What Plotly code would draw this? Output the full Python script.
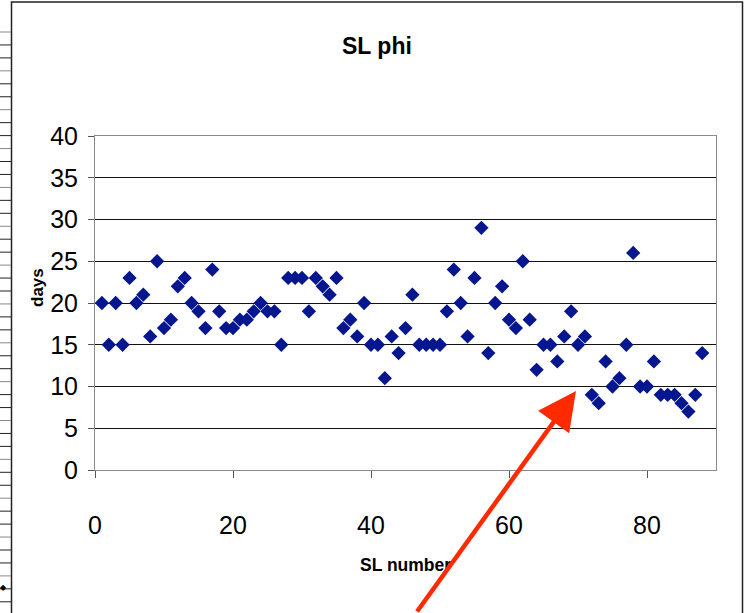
import plotly.graph_objects as go

# SL numbers and measured phase duration in days
sl_number = list(range(1, 89))
days = [
    20, 15, 20, 15, 23, 20, 21, 16, 25, 17,
    18, 22, 23, 20, 19, 17, 24, 19, 17, 17,
    18, 18, 19, 20, 19, 19, 15, 23, 23, 23,
    19, 23, 22, 21, 23, 17, 18, 16, 20, 15,
    15, 11, 16, 14, 17, 21, 15, 15, 15, 15,
    19, 24, 20, 16, 23, 29, 14, 20, 22, 18,
    17, 25, 18, 12, 15, 15, 13, 16, 19, 15,
    16, 9, 8, 13, 10, 11, 15, 26, 10, 10,
    13, 9, 9, 9, 8, 7, 9, 14,
]

x_ticks = [0, 20, 40, 60, 80]
y_ticks = [0, 5, 10, 15, 20, 25, 30, 35, 40]

W, H = 747, 613
L, R, T, B = 95, 31, 136, 143
PW, PH = W - L - R, H - T - B


def px(xp):
    """page pixel x -> paper x"""
    return (xp - L) / PW


def py(yp):
    """page pixel y -> paper y"""
    return (H - B - yp) / PH


FONT = "Liberation Sans, Arial, sans-serif"

fig = go.Figure()
fig.add_trace(go.Scatter(
    x=sl_number, y=days, mode="markers",
    marker=dict(symbol="diamond", size=11, color="#06168E", line=dict(width=0)),
    showlegend=False, cliponaxis=False,
))

shapes = []
# worksheet row lines showing at the left edge
yline = 32.0
k = 0
while yline < 612:
    shapes.append(dict(
        type="line", xref="paper", yref="paper",
        x0=px(0), x1=px(11), y0=py(yline), y1=py(yline),
        line=dict(color="#888888" if k % 3 == 0 else "#222222", width=1),
    ))
    yline += 12.95
    k += 1

# chart frame
shapes.append(dict(
    type="rect", xref="paper", yref="paper",
    x0=px(11.5), x1=px(742.5), y0=py(2), y1=py(640),
    line=dict(color="#222222", width=1.5), fillcolor="rgba(0,0,0,0)",
    layer="below",
))

annotations = [
    dict(text="<b>SL phi</b>", xref="paper", yref="paper",
         x=px(377), y=py(46), xanchor="center", yanchor="middle",
         showarrow=False, font=dict(family=FONT, size=23, color="black")),
    dict(text="<b>days</b>", xref="paper", yref="paper",
         x=px(37), y=py(288), xanchor="center", yanchor="middle",
         textangle=-90, showarrow=False,
         font=dict(family=FONT, size=17, color="black")),
    dict(text="<b>SL number</b>", xref="paper", yref="paper",
         x=px(405), y=py(565), xanchor="center", yanchor="middle",
         showarrow=False, font=dict(family=FONT, size=17.5, color="black")),
    dict(text="◆", xref="paper", yref="paper", x=px(3.5), y=py(587),
         xanchor="center", yanchor="middle", showarrow=False,
         font=dict(family="DejaVu Sans", size=8, color="black")),
    # red pointer arrow
    dict(text="", xref="paper", yref="paper", x=px(576), y=py(391),
         ax=-160, ay=250, showarrow=True, arrowhead=2, arrowsize=1.7,
         arrowwidth=4.5, arrowcolor="#FF2A00", standoff=0),
]

fig.update_layout(
    width=W, height=H,
    margin=dict(l=L, r=R, t=T, b=B, pad=0),
    paper_bgcolor="white", plot_bgcolor="white",
    font=dict(family=FONT, color="black"),
    shapes=shapes, annotations=annotations,
    xaxis=dict(
        range=[0, 90], tickvals=x_ticks, ticktext=[str(v) for v in x_ticks],
        showgrid=False, zeroline=False,
        showline=True, linecolor="#8a8a8a", linewidth=1, mirror=True,
        ticks="outside", ticklen=7, tickcolor="#555555", tickwidth=1,
        ticklabelstandoff=26,
        tickfont=dict(family=FONT, size=25, color="black"),
    ),
    yaxis=dict(
        range=[0, 40], tickvals=y_ticks, ticktext=[str(v) for v in y_ticks],
        showgrid=True, gridcolor="#111111", gridwidth=1,
        zeroline=True, zerolinecolor="#111111", zerolinewidth=1.5,
        showline=True, linecolor="#8a8a8a", linewidth=1, mirror=True,
        ticks="outside", ticklen=6, tickcolor="#555555", tickwidth=1,
        ticklabelstandoff=5,
        tickfont=dict(family=FONT, size=25, color="black"),
    ),
)

fig.write_html("out.html")
